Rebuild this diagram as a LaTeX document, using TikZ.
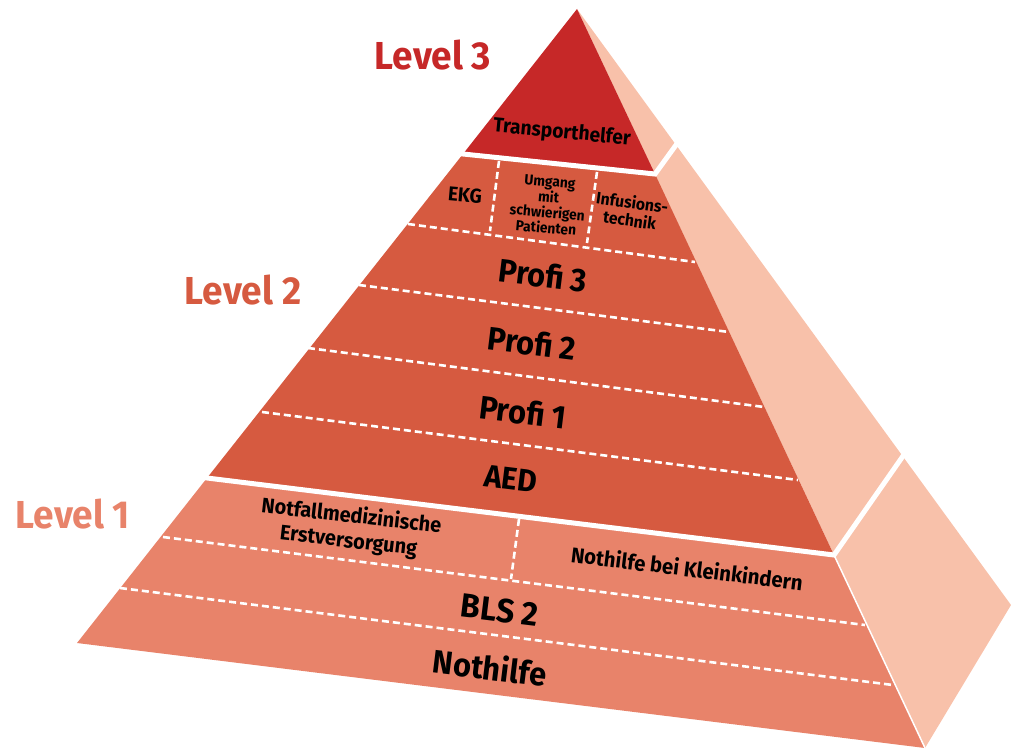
\documentclass[tikz,border=0pt]{standalone}
\usepackage{fontspec}
\setmainfont{Fira Sans}[FakeStretch=0.95]
\usetikzlibrary{calc}
\definecolor{lthree}{HTML}{C62828}
\definecolor{ltwo}{HTML}{D65A40}
\definecolor{lone}{HTML}{E8836A}
\definecolor{sideface}{HTML}{F8C1AA}
\tikzset{
  gap/.style={white, line width=5pt, line join=miter},
  seam/.style={white, line width=1.5pt},
  dash line/.style={white, line width=2.6pt, dash pattern=on 7pt off 4pt},
  lbl/.style={inner sep=0pt, font=\bfseries, text=black, align=center},
  lvl/.style={inner sep=0pt, font=\bfseries\fontsize{39}{41}\selectfont},
}
\begin{document}
\begin{tikzpicture}[x=1pt,y=-1pt]
\useasboundingbox (0,0) rectangle (1011,749);
% main vertices
\coordinate (A) at (577,9);
\coordinate (BL) at (77,643);
\coordinate (BR) at (925,748);
\coordinate (R) at (1011,605);
% gap points
\coordinate (g3l) at (463,154);
\coordinate (g3r) at (655,174);
\coordinate (g3s) at (676,145);
\coordinate (g2l) at (207,478);
\coordinate (g2r) at (834,555);
\coordinate (g2s) at (903,456);
% faces
\fill[sideface] (A) -- (R) -- (BR) -- cycle;
\fill[lone] (g2l) -- (g2r) -- (BR) -- (BL) -- cycle;
\fill[ltwo] (g3l) -- (g3r) -- (g2r) -- (g2l) -- cycle;
\fill[lthree] (A) -- (g3r) -- (g3l) -- cycle;
% gaps
\draw[gap] ($(g3l)!-8pt!(g3r)$) -- (g3r) -- ($(g3r)!1.3!(g3s)$);
\draw[gap] ($(g2l)!-8pt!(g2r)$) -- (g2r) -- ($(g2r)!1.1!(g2s)$);
\draw[seam] (g2r) -- (BR);
% dashed dividers
\coordinate (d1a) at (408,224); \coordinate (d1b) at (695,262);
\coordinate (d2a) at (359,285); \coordinate (d2b) at (729,332);
\coordinate (d3a) at (308,348); \coordinate (d3b) at (764,407);
\coordinate (d4a) at (262,412); \coordinate (d4b) at (798,480);
\coordinate (d5a) at (163,537); \coordinate (d5b) at (865,625);
\coordinate (d6a) at (120,588); \coordinate (d6b) at (893,685);
\coordinate (v1a) at (499,161); \coordinate (v1b) at (490,231);
\coordinate (v2a) at (597,172); \coordinate (v2b) at (587,243);
\coordinate (v3a) at (519,519); \coordinate (v3b) at (511,579);
\foreach \p in {d1,d2,d3,d4,d5,d6,v1,v2,v3}
  \draw[dash line] (\p a) -- (\p b);
% level labels
\node[lvl, text=lthree] (lv3) at (433,55) {Level 3};
\node[lvl, text=ltwo] (lv2) at (243,290) {Level 2};
\node[lvl, text=lone] (lv1) at (73,514) {Level 1};
% tier labels
\node[lbl, font=\bfseries\fontsize{20.2}{22}\selectfont, rotate=-5.5] (tp) at (562,133) {Transporthelfer};
\node[lbl, font=\bfseries\fontsize{20}{22}\selectfont, rotate=-5] (ekg) at (465,195) {EKG};
\node[lbl, font=\bfseries\fontsize{14.5}{15.5}\selectfont, rotate=-5] (umg) at (548,205) {Umgang\\mit\\schwierigen\\Patienten};
\node[lbl, font=\bfseries\fontsize{16.5}{18}\selectfont, rotate=-8] (inf) at (631,211) {Infusions-\\technik};
\node[lbl, font=\bfseries\fontsize{32.5}{34}\selectfont, rotate=-7] (p3) at (543,275) {Profi 3};
\node[lbl, font=\bfseries\fontsize{32.5}{34}\selectfont, rotate=-7] (p2) at (532,343) {Profi 2};
\node[lbl, font=\bfseries\fontsize{32.5}{34}\selectfont, rotate=-7] (p1) at (523,412) {Profi 1};
\node[lbl, font=\bfseries\fontsize{31.5}{33}\selectfont, rotate=-7] (aed) at (511,479) {AED};
\node[lbl, font=\bfseries\fontsize{21}{25}\selectfont, rotate=-6.5] (nf) at (350,529) {Notfallmedizinische\\Erstversorgung};
\node[lbl, font=\bfseries\fontsize{21.4}{23}\selectfont, rotate=-7] (nk) at (687,568) {Nothilfe bei Kleinkindern};
\node[lbl, font=\bfseries\fontsize{33.5}{35}\selectfont, rotate=-7] (bls) at (500,610) {BLS 2};
\node[lbl, font=\bfseries\fontsize{32.5}{35}\selectfont, rotate=-7] (nh) at (490,667) {Nothilfe};
\end{tikzpicture}
\end{document}
